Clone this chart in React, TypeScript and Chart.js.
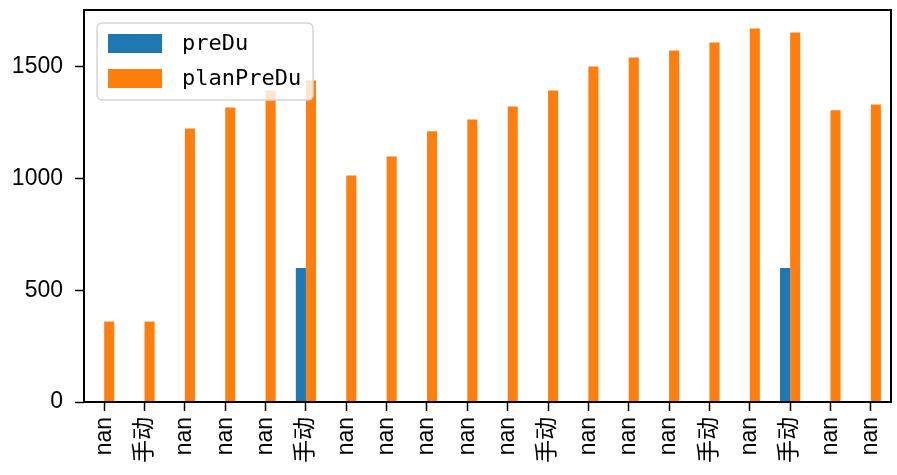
import React, { useEffect, useRef } from "react";
import { Chart, registerables } from "chart.js";

Chart.register(...registerables);

const categories = ["nan", "手动", "nan", "nan", "nan", "手动", "nan", "nan", "nan", "nan", "nan", "手动", "nan", "nan", "nan", "手动", "nan", "手动", "nan", "nan"];
const preDu = [null, null, null, null, null, 600, null, null, null, null, null, null, null, null, null, null, null, 600, null, null];
const planPreDu = [360, 360, 1224, 1318, 1394, 1439, 1014, 1099, 1211, 1264, 1322, 1394, 1501, 1541, 1573, 1609, 1671, 1653, 1305, 1331];
const seriesNames = ["preDu", "planPreDu"];
const seriesColors = ["#1f77b4", "#ff7f0e"];
const yTicks = [0, 500, 1000, 1500];

const TICK_FONT = "'Liberation Sans', 'Noto Sans CJK SC', sans-serif";

const framePlugin = {
  id: "frame",
  afterDraw(chart: any) {
    const { ctx, chartArea: a } = chart;
    ctx.save();
    // legend
    const lx = 97, ly = 23, lw = 216, lh = 77, r = 5;
    ctx.globalAlpha = 0.8;
    ctx.fillStyle = "#fff";
    ctx.beginPath();
    ctx.roundRect(lx, ly, lw, lh, r);
    ctx.fill();
    ctx.globalAlpha = 1;
    ctx.strokeStyle = "#d6d6d6";
    ctx.lineWidth = 1.5;
    ctx.stroke();
    ctx.font = "22px 'DejaVu Sans Mono', monospace";
    ctx.textBaseline = "middle";
    ctx.textAlign = "left";
    chart.data.datasets.forEach((ds: any, i: number) => {
      const cy = 43.5 + i * 35;
      ctx.fillStyle = ds.backgroundColor;
      ctx.fillRect(108, cy - 9.5, 54, 19);
      ctx.fillStyle = "#000";
      ctx.fillText(ds.label, 182, cy + 1);
    });
    // frame
    ctx.strokeStyle = "#000";
    ctx.lineWidth = 2;
    ctx.strokeRect(a.left, a.top, a.right - a.left, a.bottom - a.top);
    ctx.restore();
  },
};

export default function App() {
  const ref = useRef<HTMLCanvasElement>(null);
  useEffect(() => {
    document.body.style.margin = "0";
    const chart = new Chart(ref.current!, {
      type: "bar",
      data: {
        labels: categories,
        datasets: [
          { label: seriesNames[0], data: preDu, backgroundColor: seriesColors[0], categoryPercentage: 0.5, barPercentage: 1 },
          { label: seriesNames[1], data: planPreDu, backgroundColor: seriesColors[1], categoryPercentage: 0.5, barPercentage: 1 },
        ],
      },
      options: {
        animation: false,
        responsive: false,
        devicePixelRatio: 1,
        layout: { padding: { top: 10, right: 6, left: 0, bottom: 0 } },
        plugins: { legend: { display: false }, tooltip: { enabled: false } },
        scales: {
          x: {
            offset: true,
            border: { display: false },
            grid: { display: true, offset: false, drawOnChartArea: false, drawTicks: true, tickLength: 9, tickColor: "#000", tickWidth: 1.5 },
            ticks: {
              autoSkip: false,
              maxRotation: 90,
              minRotation: 90,
              padding: 6,
              color: "#000",
              font: { family: TICK_FONT, size: 23 },
            },
            afterFit(scale: any) {
              scale.height = 73;
              scale.paddingLeft = 0;
              scale.paddingRight = 0;
            },
          },
          y: {
            min: 0,
            max: 1754,
            border: { display: false },
            grid: { display: true, drawOnChartArea: false, drawTicks: true, tickLength: 9, tickColor: "#000", tickWidth: 1.5 },
            ticks: {
              stepSize: 500,
              includeBounds: false,
              padding: 12,
              color: "#000",
              font: { family: TICK_FONT, size: 23 },
              callback: (v: any) => String(v),
            },
            afterBuildTicks(scale: any) {
              scale.ticks = yTicks.map((v) => ({ value: v }));
            },
            afterFit(scale: any) {
              scale.width = 84;
              scale.paddingTop = 0;
              scale.paddingBottom = 0;
            },
          },
        },
      },
      plugins: [framePlugin],
    } as any);
    return () => chart.destroy();
  }, []);
  return (
    <div style={{ width: 897, height: 475 }}>
      <canvas ref={ref} width={897} height={475} style={{ display: "block" }} />
    </div>
  );
}
